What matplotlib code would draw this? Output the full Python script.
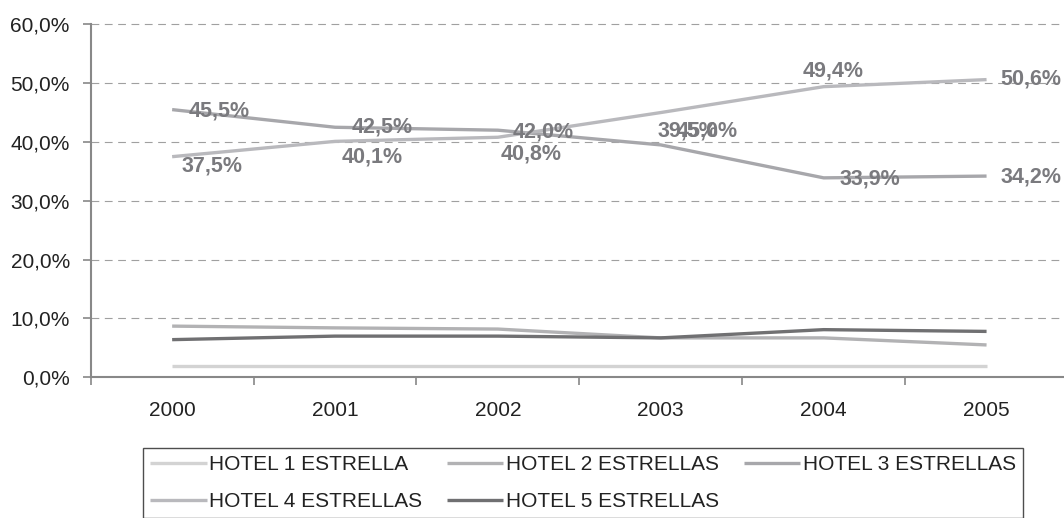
import matplotlib
matplotlib.use("Agg")
import matplotlib.pyplot as plt
from matplotlib.ticker import FixedLocator, FuncFormatter

plt.rcParams['font.family'] = ['Liberation Sans', 'DejaVu Sans']

years = ["2000", "2001", "2002", "2003", "2004", "2005"]
hotel1 = [2.0, 2.0, 2.0, 2.0, 2.0, 2.0]
hotel2 = [8.7, 8.4, 8.2, 6.7, 6.7, 5.5]
hotel3 = [45.5, 42.5, 42.0, 39.5, 33.9, 34.2]
hotel4 = [37.5, 40.1, 40.8, 45.0, 49.4, 50.6]
hotel5 = [6.4, 7.0, 7.0, 6.7, 8.1, 7.8]
names = ["HOTEL 1 ESTRELLA", "HOTEL 2 ESTRELLAS", "HOTEL 3 ESTRELLAS",
         "HOTEL 4 ESTRELLAS", "HOTEL 5 ESTRELLAS"]
yticks = [0, 10, 20, 30, 40, 50, 60]

colors = ["#d3d3d3", "#b2b2b4", "#a7a7ab", "#b9b9bd", "#707072"]
series = [hotel1, hotel2, hotel3, hotel4, hotel5]

fig = plt.figure(figsize=(10.64, 5.18), dpi=100)
ax = fig.add_axes([90.7 / 1064, 1 - 377.3 / 518, (1068 - 90.7) / 1064, (377.3 - 24.3) / 518])

x = list(range(len(years)))
handles = []
for vals, col, name in zip(series, colors, names):
    h, = ax.plot(x, vals, color=col, lw=2.4, solid_capstyle='butt', zorder=3, label=name)
    handles.append(h)

# data labels for 3 and 4 stars
lab_col = "#7a7a7e"
off3 = [(47, -1), (47, 0), (45, -2), (27, 14), (46, -1), (44, -1)]
off4 = [(40, -9), (37, -16), (33, -17), (46, -18), (9, 16), (44, 1)]
for vals, offs in ((hotel3, off3), (hotel4, off4)):
    for xi, v, (dx, dy) in zip(x, vals, offs):
        ax.annotate(f"{v:.1f}%".replace(".", ","), (xi, v), xytext=(dx, dy),
                    textcoords='offset pixels', ha='center', va='center',
                    fontsize=15.5, fontweight='bold', color=lab_col, zorder=4)

ax.set_xlim(-0.5, len(years) - 0.5)
ax.set_ylim(0, 60)
ax.set_yticks(yticks)
ax.yaxis.set_major_formatter(FuncFormatter(lambda v, p: f"{v:.1f}%".replace(".", ",")))
ax.xaxis.set_major_locator(FixedLocator([i - 0.5 for i in range(len(years) + 1)]))
ax.xaxis.set_major_formatter(FuncFormatter(lambda v, p: ""))
ax.xaxis.set_minor_locator(FixedLocator(x))
ax.set_xticklabels(years, minor=True)

ax.tick_params(axis='x', which='major', length=6, width=1.2, color="#888888", direction='out')
ax.tick_params(axis='x', which='minor', length=0, pad=17, labelsize=15, labelcolor="#222222")
ax.tick_params(axis='y', length=6, width=1.2, color="#888888", direction='out', pad=9,
               labelsize=15, labelcolor="#222222")

for s in ('top', 'right'):
    ax.spines[s].set_visible(False)
for s in ('left', 'bottom'):
    ax.spines[s].set_color("#888888")
    ax.spines[s].set_linewidth(1.5)
    ax.spines[s].set_zorder(5)

for yv in yticks[1:]:
    ax.axhline(yv, color="#a0a0a0", lw=0.8, linestyle=(0, (7, 5)), zorder=1, clip_on=False)

order = [0, 3, 1, 4, 2]
leg = fig.legend([handles[i] for i in order], [names[i] for i in order],
                 loc='upper left', bbox_to_anchor=(143 / 1064, 1 - 448 / 518),
                 ncol=3, fontsize=15, frameon=True, fancybox=False,
                 edgecolor="#222222", borderpad=0.35, handlelength=2.7,
                 handletextpad=0.12, columnspacing=1.2, labelspacing=0.85,
                 borderaxespad=0)
leg.get_frame().set_linewidth(1.0)
for t in leg.get_texts():
    t.set_color("#222222")

fig.savefig("out.png", dpi=100)
